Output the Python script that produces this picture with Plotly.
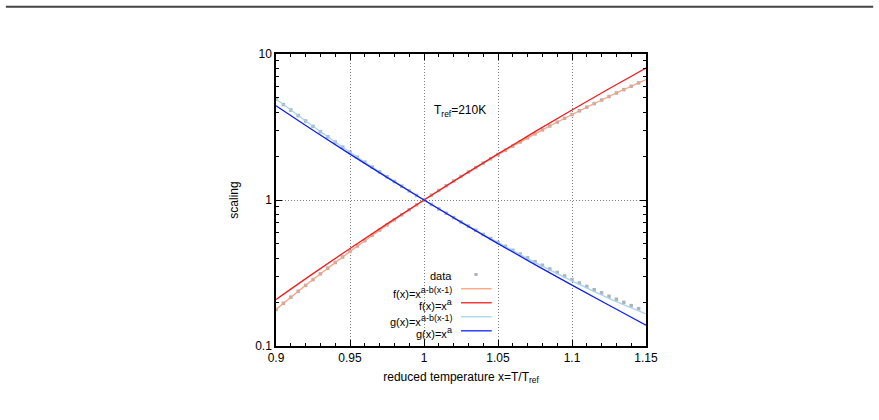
import plotly.graph_objects as go

# ---------------- data ----------------
x_data = [0.900, 0.905, 0.910, 0.915, 0.920, 0.925, 0.930, 0.935, 0.940, 0.945,
          0.950, 0.955, 0.960, 0.965, 0.970, 0.975, 0.980, 0.985, 0.990, 0.995,
          1.000, 1.005, 1.010, 1.015, 1.020, 1.025, 1.030, 1.035, 1.040, 1.045,
          1.050, 1.055, 1.060, 1.065, 1.070, 1.075, 1.080, 1.085, 1.090, 1.095,
          1.100, 1.105, 1.110, 1.115, 1.120, 1.125, 1.130, 1.135, 1.140, 1.145]
f_data = [0.178, 0.196, 0.216, 0.237, 0.260, 0.285, 0.312, 0.341, 0.373, 0.407,
          0.444, 0.484, 0.527, 0.573, 0.622, 0.675, 0.731, 0.792, 0.857, 0.926,
          1.000, 1.079, 1.163, 1.252, 1.347, 1.448, 1.554, 1.668, 1.788, 1.915,
          2.049, 2.190, 2.340, 2.497, 2.663, 2.837, 3.021, 3.213, 3.415, 3.627,
          3.848, 4.081, 4.323, 4.576, 4.841, 5.116, 5.404, 5.703, 6.014, 6.337]
g_data = [4.919, 4.504, 4.128, 3.787, 3.477, 3.196, 2.940, 2.707, 2.494, 2.301,
          2.124, 1.962, 1.815, 1.680, 1.556, 1.442, 1.338, 1.243, 1.155, 1.074,
          1.000, 0.932, 0.869, 0.811, 0.757, 0.708, 0.662, 0.620, 0.581, 0.545,
          0.512, 0.481, 0.452, 0.426, 0.401, 0.378, 0.357, 0.337, 0.319, 0.302,
          0.285, 0.270, 0.256, 0.243, 0.231, 0.219, 0.209, 0.199, 0.189, 0.180]

x_fit = [0.900, 0.925, 0.950, 0.975, 1.000, 1.025, 1.050, 1.075, 1.100, 1.125, 1.150]
f_fit_ab = [0.178, 0.285, 0.444, 0.675, 1.000, 1.448, 2.049, 2.837, 3.849, 5.116, 6.673]
f_fit_a = [0.208, 0.313, 0.466, 0.686, 1.000, 1.445, 2.069, 2.938, 4.138, 5.783, 8.024]
g_fit_ab = [4.919, 3.196, 2.124, 1.442, 1.000, 0.707, 0.510, 0.374, 0.279, 0.212, 0.166]
g_fit_a = [4.417, 3.002, 2.061, 1.429, 1.000, 0.706, 0.503, 0.361, 0.261, 0.190, 0.139]

x_ticks = [0.9, 0.95, 1.0, 1.05, 1.1, 1.15]
x_tick_labels = ["0.9", "0.95", "1", "1.05", "1.1", "1.15"]
y_ticks = [0.1, 1, 10]
y_tick_labels = ["0.1", "1", "10"]
y_minor = [0.2, 0.3, 0.4, 0.5, 0.6, 0.7, 0.8, 0.9, 2, 3, 4, 5, 6, 7, 8, 9]

SUP = '<sup><span style="font-size:9px">{}</span></sup>'
legend_labels = ["data", "f(x)=x" + SUP.format("a-b(x-1)"), "f(x)=x" + SUP.format("a"),
                 "g(x)=x" + SUP.format("a-b(x-1)"), "g(x)=x" + SUP.format("a")]

# ---------------- styles ----------------
C_DATA = "#abb3bb"
C_F_AB = "#ffa07a"
C_F_A = "#f01e1e"
C_G_AB = "#a6d4ea"
C_G_A = "#1020f0"
FONT = "Liberation Sans, Arial, sans-serif"

fig = go.Figure()
fig.add_trace(go.Scatter(x=x_data, y=f_data, mode="markers",
                         marker=dict(symbol="square", size=3.5, color=C_DATA), showlegend=False))
fig.add_trace(go.Scatter(x=x_data, y=g_data, mode="markers",
                         marker=dict(symbol="square", size=3.5, color=C_DATA), showlegend=False))
for ys, col in [(f_fit_ab, C_F_AB), (f_fit_a, C_F_A), (g_fit_ab, C_G_AB), (g_fit_a, C_G_A)]:
    fig.add_trace(go.Scatter(x=x_fit, y=ys, mode="lines", line=dict(color=col, width=1.3, shape="spline"),
                             showlegend=False))

axis_common = dict(
    showline=True, linecolor="black", linewidth=1.5, mirror="allticks",
    ticks="inside", ticklen=6, tickwidth=1, tickcolor="black",
    showgrid=True, gridcolor="#808080", griddash="1px,2px", gridwidth=1,
    zeroline=False, tickfont=dict(family=FONT, size=12, color="black"),
)

fig.update_xaxes(range=[0.9, 1.15], tickvals=x_ticks, ticktext=x_tick_labels,
                 minor=dict(dtick=0.01, tick0=0.9, ticks="inside", ticklen=3, tickcolor="black", showgrid=False),
                 title=dict(text="reduced temperature x=T/T<sub>ref</sub>", font=dict(family=FONT, size=12, color="black"), standoff=8),
                 **axis_common)
fig.update_yaxes(type="log", range=[-1, 1], tickvals=y_ticks, ticktext=y_tick_labels,
                 minor=dict(tickvals=y_minor, ticks="inside", ticklen=3, tickcolor="black", showgrid=False),
                 title=dict(text="scaling", font=dict(family=FONT, size=12, color="black"), standoff=14),
                 **axis_common)

annotations = [dict(x=1.024, y=0.61, xref="x", yref="y", text="T<sub>ref</sub>=210K", showarrow=False,
                    font=dict(family=FONT, size=12, color="black"))]
shapes = []
leg_y = [0.245, 0.196, 0.148, 0.100, 0.052]
text_dy = [-2, -4, -2, -4, -2]
for i, lab in enumerate(legend_labels):
    annotations.append(dict(x=0.481, y=leg_y[i], xref="paper", yref="paper", text=lab, showarrow=False,
                            xanchor="right", yanchor="middle", yshift=text_dy[i],
                            font=dict(family=FONT, size=11, color="black")))
for yy, col in zip(leg_y[1:], [C_F_AB, C_F_A, C_G_AB, C_G_A]):
    shapes.append(dict(type="line", xref="paper", yref="paper", x0=0.5, x1=0.583, y0=yy, y1=yy,
                       line=dict(color=col, width=1.3)))
shapes.append(dict(type="rect", xref="paper", yref="paper", x0=0.536, x1=0.545, y0=leg_y[0] - 0.005,
                   y1=leg_y[0] + 0.005, line=dict(width=0), fillcolor=C_DATA))
# page rule at the top
shapes.append(dict(type="line", xref="paper", yref="paper", x0=-0.73, x1=1.614, y0=1.162, y1=1.162,
                   line=dict(color="#444444", width=2)))

fig.update_layout(
    width=879, height=420,
    margin=dict(l=276, r=233, t=54, b=74),
    plot_bgcolor="white", paper_bgcolor="white",
    annotations=annotations, shapes=shapes, showlegend=False,
    font=dict(family=FONT, size=12, color="black"),
)
fig.write_html("out.html")
